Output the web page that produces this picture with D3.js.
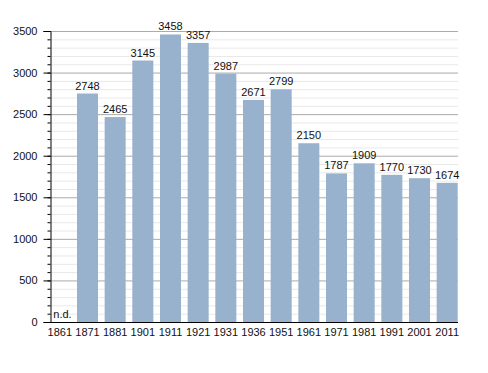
<!DOCTYPE html>
<html>
<head>
<meta charset="utf-8">
<script src="https://cdn.jsdelivr.net/npm/d3@7"></script>
<style>
  body { margin: 0; background: #fff; }
  text { font-family: "Liberation Sans", Arial, sans-serif; }
</style>
</head>
<body>
<svg id="chart" width="488" height="373"></svg>
<script>
// population by census year (1861 not available)
const years = ["1861", "1871", "1881", "1901", "1911", "1921", "1931", "1936", "1951", "1961", "1971", "1981", "1991", "2001", "2011"];
const population = [null, 2748, 2465, 3145, 3458, 3357, 2987, 2671, 2799, 2150, 1787, 1909, 1770, 1730, 1674];
const yTicks = [0, 500, 1000, 1500, 2000, 2500, 3000, 3500];

const svg = d3.select("#chart");

const plotLeft = 50, plotRight = 458;
const y = d3.scaleLinear().domain([0, 3500]).range([322, 31]);
const x = d3.scaleBand().domain(years).range([46, 461]).paddingInner(0.24).paddingOuter(0.12);

// minor gridlines every 100
const minor = d3.range(100, 3600, 100).filter(v => v % 500 !== 0);
svg.append("g").selectAll("line")
  .data(minor)
  .join("line")
  .attr("x1", plotLeft).attr("x2", plotRight)
  .attr("y1", d => y(d) + 0.5).attr("y2", d => y(d) + 0.5)
  .attr("stroke", "#e8e8e8");

svg.append("g").selectAll("line")
  .data(yTicks.slice(1))
  .join("line")
  .attr("x1", plotLeft).attr("x2", plotRight)
  .attr("y1", d => y(d) + 0.5).attr("y2", d => y(d) + 0.5)
  .attr("stroke", "#ababab");

const rows = years.map((yr, i) => ({yr, v: population[i]})).filter(d => d.v != null);

// bars
svg.append("g").selectAll("rect")
  .data(rows)
  .join("rect")
  .attr("x", d => x(d.yr))
  .attr("width", x.bandwidth())
  .attr("y", d => y(d.v))
  .attr("height", d => y(0) - y(d.v))
  .attr("fill", "#98b2cd");

// value labels
svg.append("g").selectAll("text")
  .data(rows)
  .join("text")
  .attr("x", d => x(d.yr) + x.bandwidth() / 2)
  .attr("y", d => y(d.v) - 4)
  .attr("text-anchor", "middle")
  .attr("font-size", 11)
  .attr("fill", "#111")
  .text(d => d.v);

svg.append("text")
  .attr("x", x("1861") + 4)
  .attr("y", y(0) - 4)
  .attr("font-size", 11)
  .attr("fill", "#111")
  .text("n.d.");

// y axis with minor ticks
const yAxis = svg.append("g").attr("transform", "translate(" + (plotLeft + 0.5) + ",0)");
yAxis.append("g")
  .call(d3.axisLeft(y).tickValues(d3.range(100, 3600, 100)).tickSize(3).tickFormat(""))
  .call(g => g.select(".domain").remove());
yAxis.append("g")
  .call(d3.axisLeft(y).tickValues(yTicks).tickSize(7).tickPadding(6).tickFormat(d3.format("d")))
  .call(g => g.selectAll("text").attr("font-size", 11).attr("fill", "#111").style("font-family", "Liberation Sans, Arial, sans-serif"));
yAxis.selectAll("path.domain").attr("stroke", "#000");
yAxis.selectAll("line").attr("stroke", "#000");

// x axis
const xAxis = svg.append("g").attr("transform", "translate(0," + (y(0) + 0.5) + ")");
xAxis.call(d3.axisBottom(x).tickSize(0).tickPadding(6))
  .call(g => g.select(".domain").attr("d", "M44,0H" + plotRight).attr("stroke", "#000"))
  .call(g => g.selectAll("text").attr("font-size", 11).attr("fill", "#111").style("font-family", "Liberation Sans, Arial, sans-serif"));
</script>
</body>
</html>
